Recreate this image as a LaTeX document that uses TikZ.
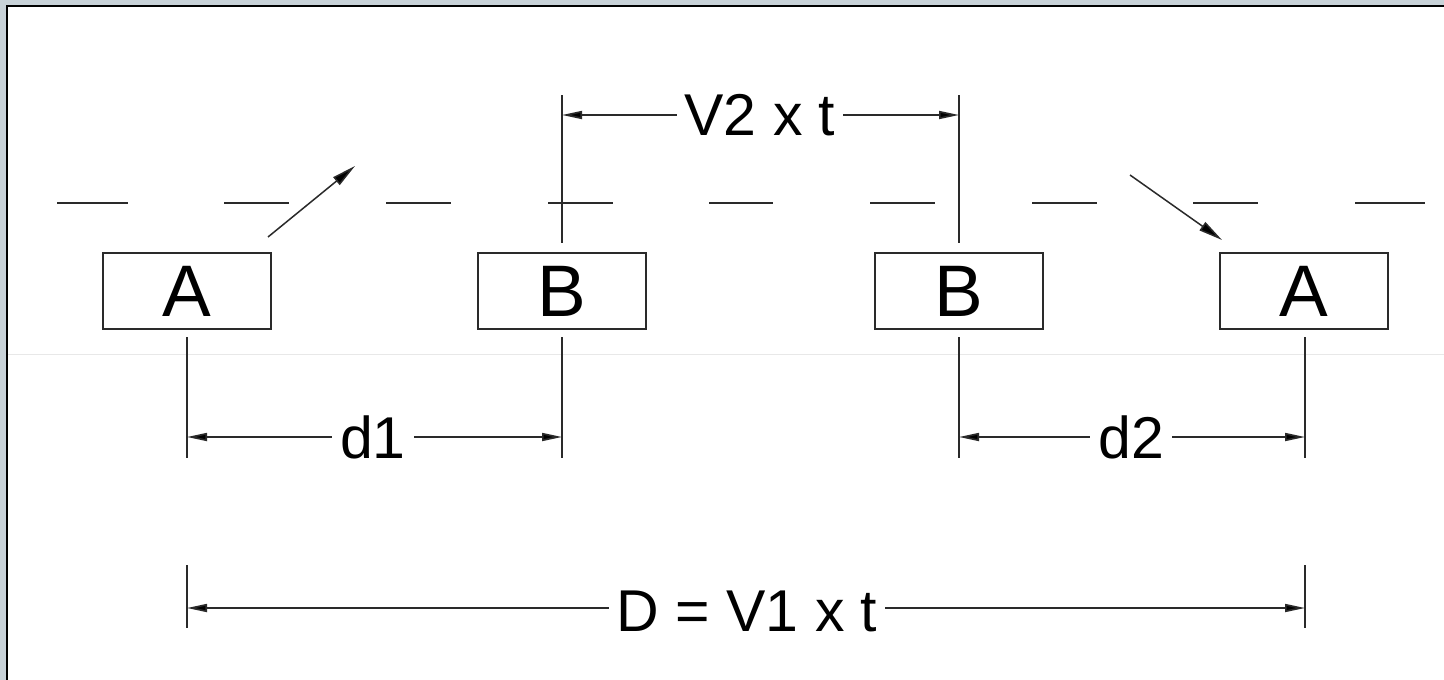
\documentclass[tikz,border=0pt]{standalone}
\usepackage{fontspec}
\setmainfont{Liberation Sans}
\usetikzlibrary{arrows.meta}
\definecolor{framegrey}{HTML}{C8D2D8}
\definecolor{inkgrey}{HTML}{2A2A2A}
\tikzset{
  box/.style={draw=inkgrey, line width=1.7pt, minimum width=168pt, minimum height=76pt, inner sep=0pt, font=\fontsize{73}{73}\selectfont},
  ext/.style={draw=inkgrey, line width=1.7pt},
  dimline/.style={draw=inkgrey, line width=1.7pt, {Triangle[length=20pt,width=8pt,fill=black]}-{Triangle[length=20pt,width=8pt,fill=black]}},
  dimtext/.style={fill=white, inner xsep=8pt, inner ysep=2pt, font=\fontsize{59}{59}\selectfont},
  moveline/.style={draw=inkgrey, line width=1.5pt, -{Triangle[length=24pt,width=10pt,fill=black]}},
  dashseg/.style={draw=inkgrey, line width=1.5pt}
}
\begin{document}
\begin{tikzpicture}[x=1pt,y=-1pt]
\useasboundingbox (0,0) rectangle (1444,680);
\fill[framegrey] (0,0) rectangle (1444,680);
\fill[white] (7,6) rectangle (1444,680);
\draw[black, line width=2pt] (7,680) -- (7,6) -- (1444,6);
\draw[black!9, line width=0.8pt] (8,354) -- (1444,354);
% dashed centre line
\foreach \a/\b in {57/128,224/289,386/451,548/613,709/773,870/935,1032/1097,1193/1258,1355/1425}
  \draw[dashseg] (\a,203) -- (\b,203);
% boxes
\node[box] (A1) at (187,291) {A};
\node[box] (B1) at (562,291) {B};
\node[box] (B2) at (959,291) {B};
\node[box] (A2) at (1304,291) {A};
% movement arrows
\coordinate (m1s) at (268,237);
\coordinate (m1e) at (355,166);
\coordinate (m2s) at (1130,175);
\coordinate (m2e) at (1222,240);
\draw[moveline] (m1s) -- (m1e);
\draw[moveline] (m2s) -- (m2e);
% extension lines
\coordinate (xa1t) at (187,337); \coordinate (xa1b) at (187,458);
\coordinate (xb1t) at (562,337); \coordinate (xb1b) at (562,458);
\coordinate (xb2t) at (959,337); \coordinate (xb2b) at (959,458);
\coordinate (xa2t) at (1305,337); \coordinate (xa2b) at (1305,458);
\draw[ext] (xa1t) -- (xa1b);
\draw[ext] (xb1t) -- (xb1b);
\draw[ext] (xb2t) -- (xb2b);
\draw[ext] (xa2t) -- (xa2b);
\coordinate (ub1t) at (562,95); \coordinate (ub1b) at (562,243);
\coordinate (ub2t) at (959,95); \coordinate (ub2b) at (959,243);
\draw[ext] (ub1t) -- (ub1b);
\draw[ext] (ub2t) -- (ub2b);
\coordinate (da1t) at (187,565); \coordinate (da1b) at (187,628);
\coordinate (da2t) at (1305,565); \coordinate (da2b) at (1305,628);
\draw[ext] (da1t) -- (da1b);
\draw[ext] (da2t) -- (da2b);
% dimension lines
\coordinate (d1l) at (187,437); \coordinate (d1r) at (562,437);
\coordinate (d2l) at (959,437); \coordinate (d2r) at (1305,437);
\coordinate (vl) at (562,115); \coordinate (vr) at (959,115);
\coordinate (Dl) at (187,608); \coordinate (Dr) at (1305,608);
\draw[dimline] (d1l) -- (d1r);
\draw[dimline] (d2l) -- (d2r);
\draw[dimline] (vl) -- (vr);
\draw[dimline] (Dl) -- (Dr);
\node[dimtext] (td1) at (373,437) {d1};
\node[dimtext] (td2) at (1131,437) {d2};
\node[dimtext] (tv) at (760,115) {V2 x t};
\node[dimtext] (tD) at (747,611) {D = V1 x t};
\end{tikzpicture}
\end{document}
